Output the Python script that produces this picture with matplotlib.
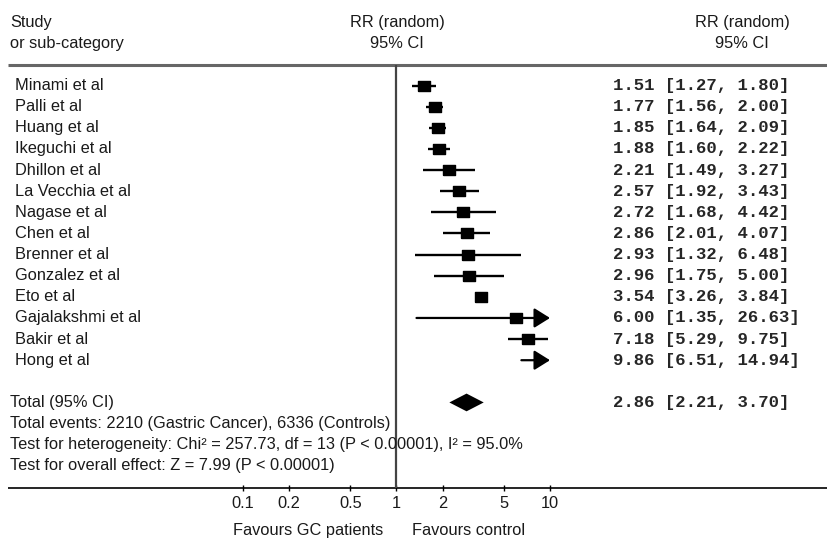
import numpy as np
import matplotlib
matplotlib.use("Agg")
import matplotlib.pyplot as plt

studies = ["Minami et al", "Palli et al", "Huang et al", "Ikeguchi et al", "Dhillon et al",
           "La Vecchia et al", "Nagase et al", "Chen et al", "Brenner et al", "Gonzalez et al",
           "Eto et al", "Gajalakshmi et al", "Bakir et al", "Hong et al"]
rr = [1.51, 1.77, 1.85, 1.88, 2.21, 2.57, 2.72, 2.86, 2.93, 2.96, 3.54, 6.00, 7.18, 9.86]
ci_low = [1.27, 1.56, 1.64, 1.60, 1.49, 1.92, 1.68, 2.01, 1.32, 1.75, 3.26, 1.35, 5.29, 6.51]
ci_high = [1.80, 2.00, 2.09, 2.22, 3.27, 3.43, 4.42, 4.07, 6.48, 5.00, 3.84, 26.63, 9.75, 14.94]
total_rr, total_low, total_high = 2.86, 2.21, 3.70
tick_vals = [0.1, 0.2, 0.5, 1, 2, 5, 10]
tick_labels = ["0.1", "0.2", "0.5", "1", "2", "5", "10"]
footer = ["Total events: 2210 (Gastric Cancer), 6336 (Controls)",
          "Test for heterogeneity: Chi\u00b2 = 257.73, df = 13 (P < 0.00001), I\u00b2 = 95.0%",
          "Test for overall effect: Z = 7.99 (P < 0.00001)"]

W, H = 827, 538
fig = plt.figure(figsize=(W / 100, H / 100), dpi=100)
# forest axes: 0.1 at x=243px, 10 at x=550px, rows from y=64.5px to 488px
ax = fig.add_axes([243 / W, 1 - 488 / H, 307 / W, (488 - 64.5) / H])
ax.set_xscale("log")
xmax = 10
ax.set_xlim(0.1, xmax)
ax.set_ylim(19.05, -1)
for s in ax.spines.values():
    s.set_visible(False)

sans = "Liberation Sans"
mono = "Liberation Mono"
fs = 11.8
col = "#1a1a1a"

def px(x):
    # figure pixel -> axes fraction
    return (x - 243) / 307.0

yt = ax.get_yaxis_transform()

# separators
ax.hlines(-1, px(8), px(827), transform=yt, color="#666666", lw=2.2, clip_on=False)
ax.hlines(19.05, px(8), px(827), transform=yt, color="black", lw=1.2, clip_on=False)
ax.vlines(1, -1, 19.05, color="#444444", lw=1.6, clip_on=False)

box = [(-1.3, -1), (1.3, -1), (1.3, 1), (-1.3, 1), (-1.3, -1)]
for i, (name, m, lo, hi) in enumerate(zip(studies, rr, ci_low, ci_high)):
    if hi > xmax:
        ax.annotate("", xy=(xmax, i), xytext=(lo, i), zorder=4,
                    arrowprops=dict(arrowstyle="-|>,head_length=0.8,head_width=0.5",
                                    color="black", lw=1.6, shrinkA=0, shrinkB=0,
                                    mutation_scale=12))
    else:
        ax.plot([lo, hi], [i, i], color="black", lw=1.7, solid_capstyle="butt")
    if m < 0.9 * xmax:  # box hidden under the arrow head otherwise
        ax.plot(m, i, marker=box, ms=8.5, color="black", ls="none", zorder=3)
    ax.text(px(15), i, name, transform=yt, ha="left", va="center", fontsize=fs,
            family=sans, color=col)
    ax.text(px(613), i, "%.2f [%.2f, %.2f]" % (m, lo, hi), transform=yt, ha="left",
            va="center", fontsize=12.4, family=mono, color="#262626", weight="bold")

# pooled estimate
r_tot = 15
ax.fill([total_low, total_rr, total_high, total_rr],
        [r_tot, r_tot - 0.42, r_tot, r_tot + 0.42], color="black", lw=0)
ax.text(px(10), r_tot, "Total (95% CI)", transform=yt, ha="left", va="center",
        fontsize=fs, family=sans, color=col)
ax.text(px(613), r_tot, "%.2f [%.2f, %.2f]" % (total_rr, total_low, total_high),
        transform=yt, ha="left", va="center", fontsize=12.4, family=mono, color="#262626",
        weight="bold")
for k, line in enumerate(footer):
    ax.text(px(10), r_tot + 1 + k, line, transform=yt, ha="left", va="center",
            fontsize=fs, family=sans, color=col)

# headers
ax.text(px(10), -3, "Study", transform=yt, ha="left", va="center", fontsize=fs,
        family=sans, color=col)
ax.text(px(10), -2, "or sub-category", transform=yt, ha="left", va="center",
        fontsize=fs, family=sans, color=col)
for xc in (397, 742):
    ax.text(px(xc), -3, "RR (random)", transform=yt, ha="center", va="center",
            fontsize=fs, family=sans, color=col)
    ax.text(px(xc), -2, "95% CI", transform=yt, ha="center", va="center",
            fontsize=fs, family=sans, color=col)

# x axis
ax.set_xticks(tick_vals)
ax.set_xticklabels(tick_labels, fontsize=fs, family=sans, color=col)
ax.minorticks_off()
ax.tick_params(axis="x", direction="inout", length=5, width=1, pad=3)
ax.set_yticks([])
ax.text(px(383), 21.05, "Favours GC patients", ha="right", va="center",
        transform=yt, fontsize=fs, family=sans, color=col)
ax.text(px(412), 21.05, "Favours control", ha="left", va="center",
        transform=yt, fontsize=fs, family=sans, color=col)

fig.savefig("out.png", dpi=100)
